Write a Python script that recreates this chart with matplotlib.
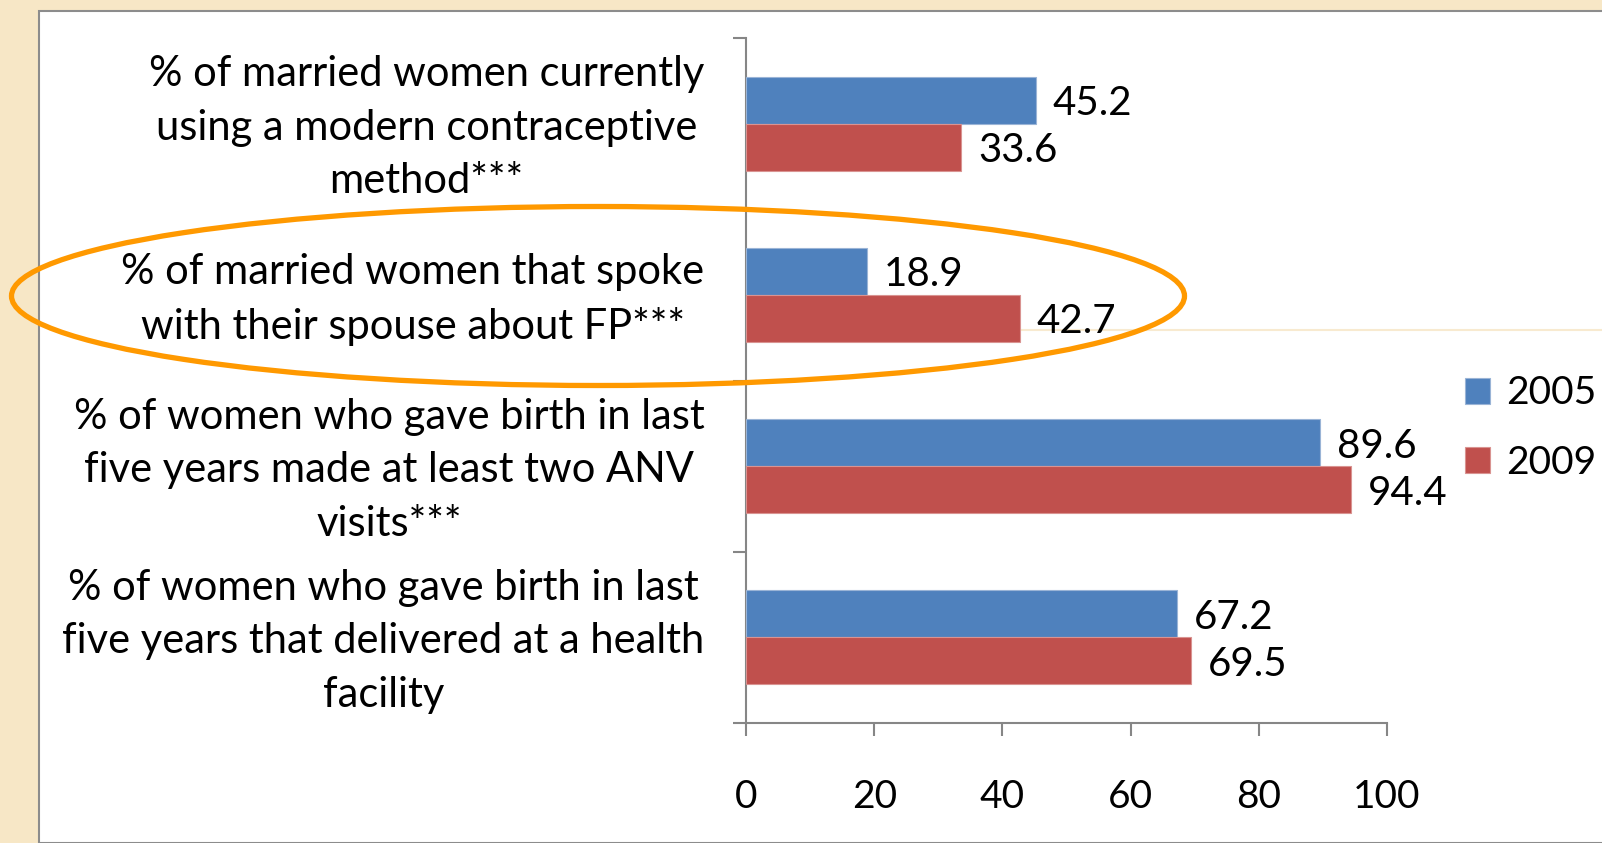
import matplotlib
matplotlib.use("Agg")
import matplotlib.pyplot as plt
from matplotlib.patches import Ellipse, Rectangle
import numpy as np

plt.rcParams['font.family'] = ['Lato', 'DejaVu Sans']

# data
categories = [
    "% of married women currently\nusing a modern contraceptive\nmethod***",
    "% of married women that spoke\nwith their spouse about FP***",
    "% of women who gave birth in last\nfive years made at least two ANV\nvisits***",
    "% of women who gave birth in last\nfive years that delivered at a health\nfacility",
]
years = ["2005", "2009"]
vals_2005 = [45.2, 18.9, 89.6, 67.2]
vals_2009 = [33.6, 42.7, 94.4, 69.5]
xticks = [0, 20, 40, 60, 80, 100]

blue = '#4f81bd'
red = '#c0504d'
W, H = 1602, 843

fig = plt.figure(figsize=(W / 100, H / 100), dpi=100)
fig.patch.set_facecolor('#f7e7c6')

# white slide panel
panel = Rectangle((39 / W, 0), 1.0, 1 - 11 / H, transform=fig.transFigure,
                  facecolor='white', edgecolor='#8c8c8c', linewidth=1.5, zorder=0)
fig.add_artist(panel)

# faint stray line
fig.add_artist(plt.Line2D([746 / W, 1.0], [1 - 330 / H, 1 - 330 / H],
                          transform=fig.transFigure, color='#f8ead0', lw=1.5, zorder=0.5))

ax = fig.add_axes([746 / W, 1 - 723 / H, (1387 - 746) / W, (723 - 38) / H])
ax.set_facecolor('none')
ax.set_zorder(1)

y = np.arange(len(categories))
h = 0.275
b1 = ax.barh(y - h / 2, vals_2005, height=h, color=blue, edgecolor='#9ab4d6',
             linewidth=0.8, label=years[0], zorder=3)
b2 = ax.barh(y + h / 2, vals_2009, height=h, color=red, edgecolor='#d99391',
             linewidth=0.8, label=years[1], zorder=3)

for bars, vals in ((b1, vals_2005), (b2, vals_2009)):
    for rect, v in zip(bars, vals):
        ax.text(v + 2.6, rect.get_y() + rect.get_height() / 2 + 0.02, f"{v:.1f}",
                va='center', ha='left', fontsize=29, color='black', zorder=4)

ax.set_xlim(0, 100)
ax.set_ylim(len(categories) - 0.5, -0.5)

ax.set_xticks(xticks)
ax.set_xticklabels([str(t) for t in xticks], fontsize=28)
ax.tick_params(axis='x', length=9, width=1.5, color='#868686', pad=31)

# labels sit a touch above the category centre, like the original
ax.set_yticks(y - 0.042)
ax.set_yticklabels(categories, fontsize=30, linespacing=1.5)
for t in ax.get_yticklabels():
    t.set_multialignment('center')
ax.tick_params(axis='y', which='major', length=0, pad=30)
ax.set_yticks(np.arange(len(categories) + 1) - 0.5, minor=True)
ax.tick_params(axis='y', which='minor', length=9.5, width=1.5, color='#868686')

for s in ['top', 'right']:
    ax.spines[s].set_visible(False)
for s in ['left', 'bottom']:
    ax.spines[s].set_color('#868686')
    ax.spines[s].set_linewidth(1.5)

# legend
leg = fig.legend(handles=[b1, b2], labels=years, loc='center left',
                 bbox_to_anchor=(1465 / W, 1 - 428 / H), frameon=False, fontsize=28,
                 handlelength=0.64, handleheight=0.64, handletextpad=0.42,
                 labelspacing=0.85, borderpad=0, borderaxespad=0)
leg.set_zorder(5)

# highlight ellipse
ell = Ellipse((598 / W, 1 - 296 / H), 1173 / W, 179 / H, transform=fig.transFigure,
              fill=False, edgecolor='#ff9900', linewidth=3.8, zorder=10)
fig.add_artist(ell)

fig.savefig('out.png', dpi=100, facecolor=fig.get_facecolor())
